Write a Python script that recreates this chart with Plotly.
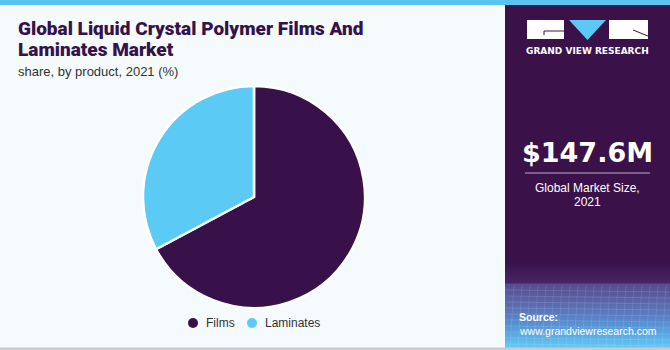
import plotly.graph_objects as go

products = ["Films", "Laminates"]
shares = [67.2, 32.8]
colors = ["#38114A", "#5BCBF5"]

title_lines = ["Global Liquid Crystal Polymer Films And", "Laminates Market"]
subtitle = "share, by product, 2021 (%)"
market_value = "$147.6M"
market_label = ["Global Market Size,", "2021"]
source_lines = ["<b>Source:</b>", "www.grandviewresearch.com"]

W, H = 670, 350


def px(x):
    return x / W


def py(y):
    return 1 - y / H


fig = go.Figure()
fig.add_trace(go.Pie(
    labels=products, values=shares, sort=False, direction="clockwise", rotation=0,
    marker=dict(colors=colors, line=dict(color="white", width=2.5)),
    textinfo="none", hoverinfo="label+percent", showlegend=False,
    domain=dict(x=[143 / W, 365 / W], y=[(H - 308) / H, (H - 86) / H]),
))

shapes = []
shapes.append(dict(type="rect", xref="paper", yref="paper", x0=0, x1=1, y0=0, y1=1,
                   fillcolor="#F5FAFD", line_width=0, layer="below"))
shapes.append(dict(type="rect", xref="paper", yref="paper", x0=0, x1=1, y0=py(5), y1=1,
                   fillcolor="#5BC4EE", line_width=0, layer="below"))
shapes.append(dict(type="rect", xref="paper", yref="paper", x0=px(505), x1=1, y0=py(348), y1=py(5),
                   fillcolor="#3A1249", line_width=0, layer="below"))

# gradient band at the bottom of the side panel (overlapping bands, no seams)
stops = [(262, (0x3A, 0x12, 0x49)), (283, (0x48, 0x26, 0x66)), (284, (0x58, 0x4C, 0x8E)),
         (300, (0x5C, 0x62, 0xA6)), (318, (0x58, 0x84, 0xC8)), (334, (0x5A, 0xA8, 0xE4)),
         (348, (0x62, 0xCC, 0xF4))]
for (ya, ca), (yb, cb) in zip(stops[:-1], stops[1:]):
    steps = max(1, int(yb - ya))
    for i in range(steps):
        u = (i + 0.5) / steps
        col = tuple(int(ca[k] + (cb[k] - ca[k]) * u) for k in range(3))
        y0 = ya + (yb - ya) * i / steps
        shapes.append(dict(type="rect", xref="paper", yref="paper", x0=px(505), x1=1,
                           y0=py(348), y1=py(y0), fillcolor="rgb(%d,%d,%d)" % col,
                           line_width=0, layer="below"))
for yy in range(290, 347, 6):
    shapes.append(dict(type="line", xref="paper", yref="paper", x0=px(505), x1=1, y0=py(yy), y1=py(yy + 2),
                       line=dict(color="rgba(220,232,255,0.15)", width=1), layer="below"))
for xx in range(510, 670, 8):
    shapes.append(dict(type="line", xref="paper", yref="paper", x0=px(xx), x1=px(xx + 4), y0=py(347), y1=py(286),
                       line=dict(color="rgba(220,232,255,0.12)", width=1), layer="below"))
shapes.append(dict(type="rect", xref="paper", yref="paper", x0=0, x1=1, y0=0, y1=py(347.5),
                   fillcolor="#C8CCD0", line_width=0, layer="below"))

# logo
shapes.append(dict(type="rect", xref="paper", yref="paper", x0=px(527), x1=px(564), y0=py(39), y1=py(20),
                   fillcolor="white", line_width=0))
shapes.append(dict(type="line", xref="paper", yref="paper", x0=px(544), x1=px(564), y0=py(31), y1=py(31),
                   line=dict(color="#3A1249", width=1)))
shapes.append(dict(type="line", xref="paper", yref="paper", x0=px(544), x1=px(544), y0=py(31), y1=py(35),
                   line=dict(color="#3A1249", width=1)))
shapes.append(dict(type="path", xref="paper", yref="paper",
                   path="M %f,%f L %f,%f L %f,%f Z" % (px(569), py(20), px(606), py(20), px(587.5), py(40)),
                   fillcolor="#5BC8F5", line_width=0))
shapes.append(dict(type="rect", xref="paper", yref="paper", x0=px(609), x1=px(648), y0=py(39), y1=py(20),
                   fillcolor="white", line_width=0))
shapes.append(dict(type="line", xref="paper", yref="paper", x0=px(633), x1=px(648), y0=py(30), y1=py(36),
                   line=dict(color="#3A1249", width=1)))
shapes.append(dict(type="line", xref="paper", yref="paper", x0=px(525), x1=px(650), y0=py(173), y1=py(173),
                   line=dict(color="#B9A9C9", width=1)))

annotations = []
title_font = dict(family="Roboto", size=19, color="#36124A", weight=900)
for i, line in enumerate(title_lines):
    annotations.append(dict(text=line, x=px(16), y=py(29 + 20 * i), xref="paper", yref="paper",
                            xanchor="left", yanchor="middle", align="left", showarrow=False,
                            font=title_font))
annotations.append(dict(text=subtitle, x=px(16), y=py(71), xref="paper", yref="paper",
                        xanchor="left", yanchor="middle", showarrow=False,
                        font=dict(family="Liberation Sans", size=13, color="#333333")))
annotations.append(dict(text="GRAND VIEW RESEARCH", x=px(587.5), y=py(51), xref="paper", yref="paper",
                        xanchor="center", yanchor="middle", showarrow=False,
                        font=dict(family="DejaVu Sans", size=9, color="white", weight="bold")))
annotations.append(dict(text=market_value, x=px(587), y=py(152), xref="paper", yref="paper",
                        xanchor="center", yanchor="middle", showarrow=False,
                        font=dict(family="DejaVu Sans", size=27, color="white", weight="bold")))
for i, line in enumerate(market_label):
    annotations.append(dict(text=line, x=px(587), y=py(188 + 13.5 * i), xref="paper", yref="paper",
                            xanchor="center", yanchor="middle", showarrow=False,
                            font=dict(family="Liberation Sans", size=12, color="white")))
for i, line in enumerate(source_lines):
    annotations.append(dict(text=line, x=px(517), y=py(317 + 13.5 * i), xref="paper", yref="paper",
                            xanchor="left", yanchor="middle", align="left", showarrow=False,
                            font=dict(family="Liberation Sans", size=10.5, color="white")))

# legend (circle markers, as in the reference)
legend_x = [193, 252]
for name, col, lx in zip(products, colors, legend_x):
    shapes.append(dict(type="circle", xref="paper", yref="paper",
                       x0=px(lx - 5), x1=px(lx + 5), y0=py(328), y1=py(318),
                       fillcolor=col, line_width=0))
    annotations.append(dict(text=name, x=px(lx + 11), y=py(323), xref="paper", yref="paper",
                            xanchor="left", yanchor="middle", showarrow=False,
                            font=dict(family="Liberation Sans", size=12, color="#333333")))

fig.update_layout(
    width=W, height=H, margin=dict(l=0, r=0, t=0, b=0),
    paper_bgcolor="#F5FAFD", plot_bgcolor="#F5FAFD",
    shapes=shapes, annotations=annotations, showlegend=False,
)
fig.write_html("out.html")
